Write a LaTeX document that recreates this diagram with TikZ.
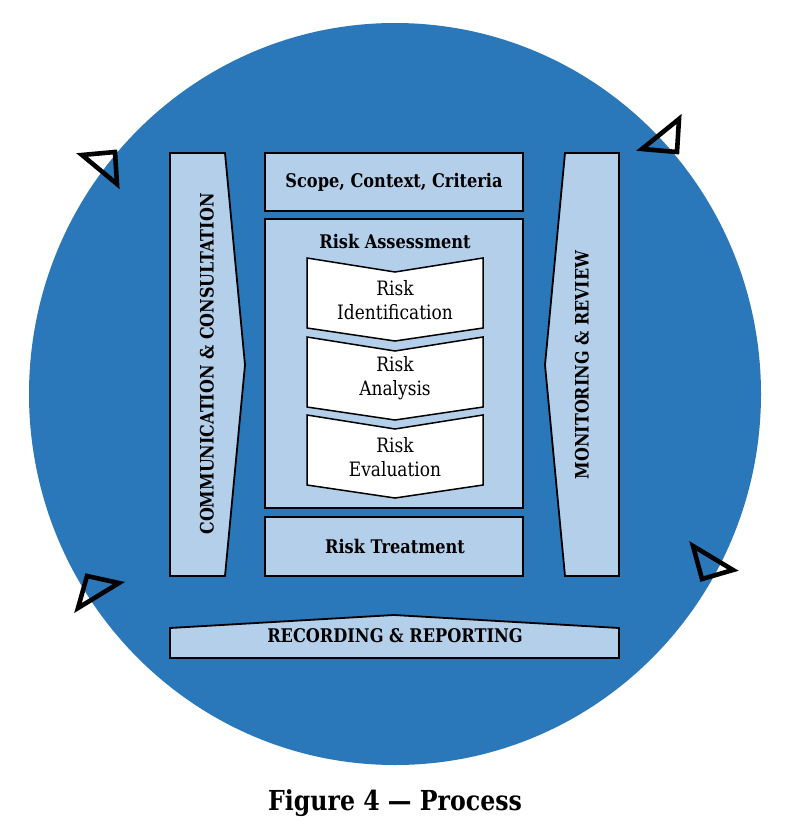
\documentclass[tikz,border=0pt]{standalone}
\usepackage{fontspec}
\setmainfont{DejaVu Serif}[FakeStretch=0.86]
\definecolor{circblue}{RGB}{42,120,186}
\definecolor{boxblue}{RGB}{180,207,234}
\begin{document}
\begin{tikzpicture}[x=1pt,y=-1pt,
  boxshape/.style={fill=boxblue,draw=black,line width=1.8pt,line join=miter},
  chev/.style={fill=white,draw=black,line width=1.5pt},
  tri/.style={draw=black,line width=4.6pt,line join=miter},
  blabel/.style={font=\bfseries\fontsize{18.8}{20}\selectfont,inner sep=0pt},
  clabel/.style={font=\fontsize{19.8}{24}\selectfont,align=center,inner sep=0pt},
  vlabel/.style={font=\bfseries\fontsize{18.5}{20}\selectfont,inner sep=0pt,rotate=90}]
\useasboundingbox (0,0) rectangle (786,824);
% big circle
\fill[circblue] (395,394) ellipse [x radius=366, y radius=371];
% triangles
\draw[tri] (82,155) -- (115,152) -- (117,184) -- cycle;
\draw[tri] (642,149) -- (679,119) -- (677,152) -- cycle;
\draw[tri] (87,576) -- (119,583) -- (78,608) -- cycle;
\draw[tri] (693,546) -- (733,570) -- (702,579) -- cycle;
% left bar
\draw[boxshape] (170,153) -- (225,153) -- (245,365) -- (225,576) -- (170,576) -- cycle;
\node[vlabel] (comm) at (207,364) {COMMUNICATION \& CONSULTATION};
% right bar
\draw[boxshape] (565,153) -- (619,153) -- (619,576) -- (565,576) -- (545,365) -- cycle;
\node[vlabel] (mon) at (582,365) {MONITORING \& REVIEW};
% scope
\draw[boxshape] (265,153) rectangle (523,211);
\node[blabel] (scope) at (394,182) {Scope, Context, Criteria};
% assessment
\draw[boxshape] (265,219) rectangle (523,508);
\node[blabel] (assess) at (395,241) {Risk Assessment};
% chevrons
\draw[chev] (307,258) -- (395,272) -- (483,258) -- (483,328) -- (395,341) -- (307,328) -- cycle;
\node[clabel] (ident) at (395,300) {Risk\\Identification};
\draw[chev] (307,337) -- (395,351) -- (483,337) -- (483,407) -- (395,420) -- (307,407) -- cycle;
\node[clabel] (anal) at (395,378) {Risk\\Analysis};
\draw[chev] (307,415) -- (395,429) -- (483,415) -- (483,485) -- (395,498) -- (307,485) -- cycle;
\node[clabel] (eval) at (395,457) {Risk\\Evaluation};
% treatment
\draw[boxshape] (265,517) rectangle (523,576);
\node[blabel] (treat) at (395,546) {Risk Treatment};
% recording
\draw[boxshape] (170,628) -- (394,615) -- (619,628) -- (619,658) -- (170,658) -- cycle;
\node[blabel] (rec) at (395,636) {RECORDING \& REPORTING};
% caption
\node[font=\bfseries\fontsize{27.5}{30}\selectfont,inner sep=0pt] (cap) at (395,803) {Figure 4 — Process};
\end{tikzpicture}
\end{document}
